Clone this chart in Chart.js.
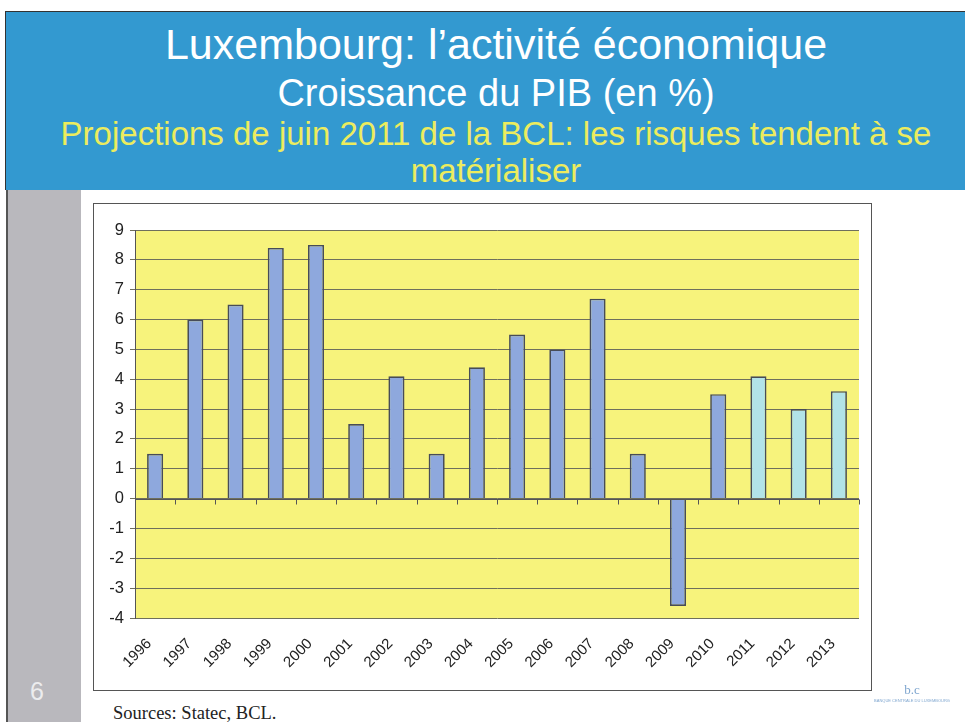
<!DOCTYPE html>
<html>
<head>
<meta charset="utf-8">
<script src="https://cdn.jsdelivr.net/npm/chart.js@4"></script>
<style>
  body { margin: 0; width: 965px; height: 722px; position: relative; overflow: hidden; background: #fff; font-family: "Liberation Sans", Arial, sans-serif; }
  #header { position: absolute; left: 5px; top: 11px; width: 960px; height: 178px; background: #3399d0; border-top: 1px solid #333; border-left: 1px solid #333; }
  .line { position: absolute; left: 0; width: 980px; text-align: center; white-space: nowrap; }
  #strip { position: absolute; left: 6px; top: 190px; width: 73px; height: 532px; background: #b9b8bd; border-left: 2px solid #555; }
  #slideNo { position: absolute; left: 30px; top: 677px; color: #ececee; font-size: 25px; }
  #frame { position: absolute; left: 93px; top: 203px; width: 777px; height: 486px; border: 1px solid #555; background: #fff; }
  #sources { position: absolute; left: 113px; top: 703px; font-family: "Liberation Serif", "Times New Roman", serif; font-size: 18.5px; color: #222; }
  #logo { position: absolute; left: 866px; top: 682px; width: 92px; text-align: center; color: #7fa6cf; }
</style>
</head>
<body>
<div id="header">
  <div class="line" style="top:8px; font-size:43px; color:#fff;">Luxembourg: l’activité économique</div>
  <div class="line" style="top:60px; font-size:38px; color:#fff;">Croissance du PIB (en %)</div>
  <div class="line" style="top:103px; font-size:33px; color:#ecec5e;">Projections de juin 2011 de la BCL: les risques tendent à se</div>
  <div class="line" style="top:140px; font-size:33px; color:#ecec5e;">matérialiser</div>
</div>
<div id="strip"></div>
<div id="slideNo">6</div>
<div id="frame"><canvas id="chart" width="777" height="486"></canvas></div>
<div id="sources">Sources: Statec, BCL.</div>
<div id="logo"><div style="font-size:13px; font-family:'Liberation Serif',serif;">b.c</div><div style="font-size:4px;">BANQUE CENTRALE DU LUXEMBOURG</div></div>

<script>
const years = ["1996", "1997", "1998", "1999", "2000", "2001", "2002", "2003", "2004",
    "2005", "2006", "2007", "2008", "2009", "2010", "2011", "2012", "2013"];
const growth = [1.5, 6.0, 6.5, 8.4, 8.5, 2.5, 4.1, 1.5, 4.4, 5.5, 5.0, 6.7, 1.5, -3.6, 3.5, 4.1, 3.0, 3.6];
const projectionYears = ["2011", "2012", "2013"];
const yTicks = [-4, -3, -2, -1, 0, 1, 2, 3, 4, 5, 6, 7, 8, 9];

const plotBackground = {
    id: "plotBackground",
    beforeDraw(chart) {
        const { ctx, chartArea } = chart;
        ctx.save();
        ctx.fillStyle = "#f7f37c";
        ctx.fillRect(chartArea.left, chartArea.top, chartArea.right - chartArea.left, chartArea.bottom - chartArea.top);
        ctx.restore();
    }
};

// small tick marks between categories on the zero line, as in the Excel original
const zeroTicks = {
    id: "zeroTicks",
    afterDatasetsDraw(chart) {
        const { ctx, scales } = chart;
        const y0 = Math.round(scales.y.getPixelForValue(0)) + 0.5;
        const half = (scales.x.getPixelForValue(1) - scales.x.getPixelForValue(0)) / 2;
        ctx.save();
        ctx.strokeStyle = "#555";
        ctx.lineWidth = 1;
        ctx.beginPath();
        ctx.moveTo(scales.x.left, y0);
        ctx.lineTo(scales.x.right, y0);
        for (let i = 0; i <= years.length; i++) {
            const x = Math.round(scales.x.getPixelForValue(i) - half) + 0.5;
            ctx.moveTo(x, y0);
            ctx.lineTo(x, y0 + 5);
        }
        ctx.stroke();
        ctx.restore();
    }
};

new Chart(document.getElementById("chart"), {
    type: "bar",
    data: {
        labels: years,
        datasets: [{
            data: growth,
            backgroundColor: years.map((y) => projectionYears.includes(y) ? "#b2e3e8" : "#8ea8dd"),
            borderColor: "#474c58",
            borderWidth: 1.7,
            barPercentage: 0.4,
            categoryPercentage: 1.0
        }]
    },
    options: {
        responsive: false,
        animation: false,
        layout: { padding: { top: 26, right: 12, left: 0, bottom: 0 } },
        plugins: { legend: { display: false }, tooltip: { enabled: false } },
        scales: {
            x: {
                grid: { display: false },
                border: { display: false },
                ticks: {
                    color: "#222",
                    font: { family: "Liberation Sans", size: 15 },
                    minRotation: 45,
                    maxRotation: 45,
                    padding: 9,
                    labelOffset: -6
                },
                afterFit: (scale) => { scale.height = 72; }
            },
            y: {
                min: -4,
                max: 9,
                afterBuildTicks: (scale) => { scale.ticks = yTicks.map((v) => ({ value: v })); },
                grid: { color: "#6f6f5c", lineWidth: 1, tickLength: 5 },
                border: { display: true, color: "#555" },
                ticks: {
                    color: "#222",
                    font: { family: "Liberation Sans", size: 16.5 },
                    padding: 6
                },
                afterFit: (scale) => { scale.width = 41; }
            }
        }
    },
    plugins: [plotBackground, zeroTicks]
});
</script>
</body>
</html>
